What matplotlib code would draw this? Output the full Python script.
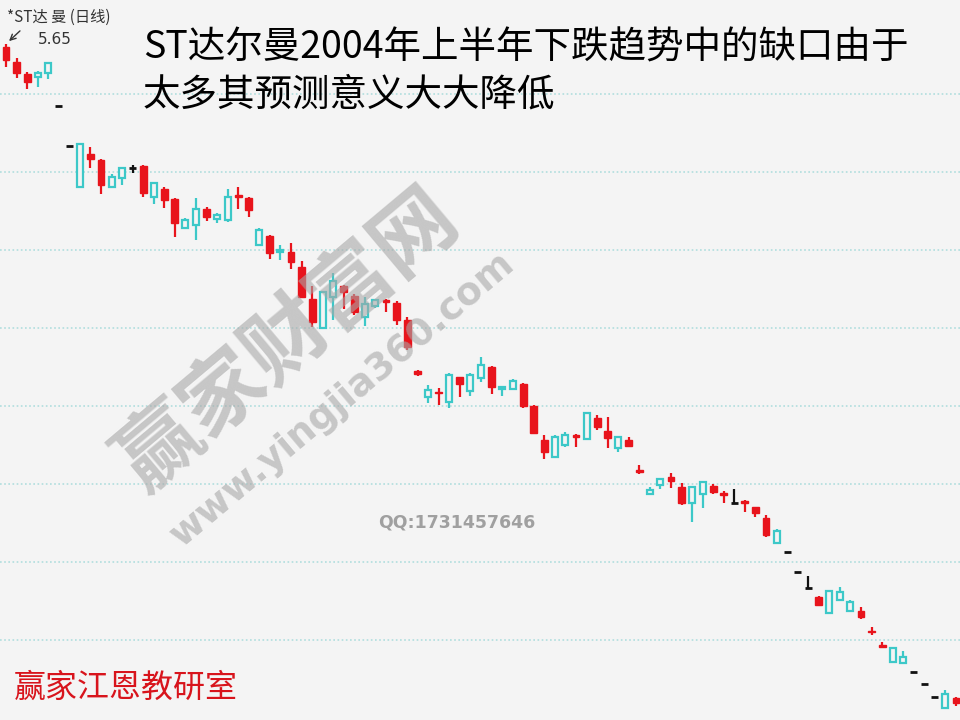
import matplotlib
matplotlib.use("Agg")
import matplotlib.pyplot as plt
import numpy as np

plt.rcParams['font.family'] = ['Noto Sans CJK SC', 'DejaVu Sans']

# ---- data (daily OHLC) ----
opens = [5.570, 5.505, 5.460, 5.505, 5.555, 5.340, 5.140, 5.150, 5.075, 4.945,
         4.985, 5.030, 5.030, 4.905, 4.955, 4.870, 4.755, 4.770, 4.825, 4.785,
         4.795, 4.885, 4.885, 4.820, 4.720, 4.605, 4.620, 4.560, 4.385, 4.260,
         4.410, 4.465, 4.410, 4.310, 4.350, 4.370, 4.360, 4.270, 4.135, 4.000,
         3.920, 3.905, 3.995, 3.950, 3.995, 4.045, 3.935, 3.935, 3.965, 3.840,
         3.705, 3.610, 3.685, 3.695, 3.685, 3.805, 3.735, 3.680, 3.685, 3.640,
         3.510, 3.420, 3.475, 3.465, 3.355, 3.435, 3.460, 3.410, 3.395, 3.355,
         3.355, 3.305, 3.195, 3.215, 3.110, 3.010, 2.930, 2.845, 2.915, 2.910,
         2.860, 2.785, 2.710, 2.635, 2.630, 2.585, 2.510, 2.450, 2.385, 2.400,
         2.355]
closes = [5.635, 5.560, 5.500, 5.485, 5.505, 5.340, 5.140, 4.935, 5.100, 5.070,
          4.935, 4.980, 5.030, 5.040, 4.885, 4.925, 4.875, 4.730, 4.745, 4.825,
          4.775, 4.770, 4.895, 4.880, 4.645, 4.690, 4.610, 4.610, 4.535, 4.375,
          4.230, 4.385, 4.440, 4.390, 4.285, 4.340, 4.370, 4.355, 4.270, 4.015,
          3.885, 3.910, 3.860, 3.985, 3.915, 3.980, 4.035, 3.925, 3.925, 3.950,
          3.840, 3.670, 3.585, 3.645, 3.695, 3.675, 3.780, 3.715, 3.630, 3.670,
          3.520, 3.400, 3.445, 3.485, 3.435, 3.355, 3.400, 3.440, 3.405, 3.355,
          3.365, 3.335, 3.280, 3.155, 3.110, 3.010, 2.930, 2.885, 2.805, 2.870,
          2.815, 2.815, 2.715, 2.645, 2.560, 2.555, 2.510, 2.450, 2.385, 2.330,
          2.380]
highs = [5.650, 5.580, 5.510, 5.515, 5.560, 5.340, 5.140, 5.150, 5.135, 5.075,
         5.000, 5.035, 5.045, 5.045, 4.955, 4.935, 4.880, 4.780, 4.880, 4.835,
         4.805, 4.925, 4.935, 4.885, 4.730, 4.695, 4.645, 4.655, 4.565, 4.440,
         4.415, 4.505, 4.445, 4.400, 4.385, 4.375, 4.375, 4.365, 4.285, 4.020,
         3.945, 3.930, 4.005, 3.985, 4.005, 4.085, 4.040, 3.940, 3.975, 3.955,
         3.845, 3.695, 3.695, 3.710, 3.700, 3.805, 3.795, 3.785, 3.690, 3.685,
         3.545, 3.435, 3.480, 3.505, 3.455, 3.435, 3.460, 3.450, 3.415, 3.425,
         3.370, 3.335, 3.295, 3.225, 3.110, 3.010, 2.990, 2.890, 2.915, 2.935,
         2.870, 2.835, 2.735, 2.660, 2.630, 2.615, 2.510, 2.450, 2.385, 2.420,
         2.385]
lows = [5.535, 5.480, 5.425, 5.435, 5.475, 5.340, 5.140, 4.935, 5.030, 4.900,
        4.930, 4.945, 5.005, 4.885, 4.850, 4.830, 4.685, 4.725, 4.670, 4.765,
        4.755, 4.760, 4.825, 4.785, 4.640, 4.575, 4.570, 4.525, 4.380, 4.235,
        4.225, 4.270, 4.325, 4.295, 4.240, 4.330, 4.310, 4.245, 4.120, 3.990,
        3.855, 3.845, 3.830, 3.885, 3.890, 3.960, 3.900, 3.890, 3.920, 3.830,
        3.700, 3.575, 3.580, 3.635, 3.635, 3.670, 3.720, 3.630, 3.610, 3.635,
        3.500, 3.400, 3.425, 3.430, 3.345, 3.260, 3.330, 3.400, 3.355, 3.355,
        3.310, 3.285, 3.185, 3.155, 3.110, 3.010, 2.930, 2.840, 2.805, 2.870,
        2.815, 2.775, 2.695, 2.630, 2.560, 2.555, 2.510, 2.450, 2.385, 2.330,
        2.340]
grid_levels = [5.40, 5.01, 4.62, 4.23, 3.84, 3.45, 3.06, 2.67]
peak_label = "5.65"

title_lines = ["ST达尔曼2004年上半年下跌趋势中的缺口由于", "太多其预测意义大大降低"]
stock_label = "*ST达 曼 (日线)"
watermark_cn = "赢家财富网"
watermark_url = "www.yingjia360.com"
qq_text = "QQ:1731457646"
studio_text = "赢家江恩教研室"

# ---- styles ----
BG = "#f4f4f4"
RED = "#e8141c"
CYAN = "#3cc8c8"
BLACK = "#111111"

W, H = 960, 720
fig = plt.figure(figsize=(W / 100, H / 100), dpi=100, facecolor=BG)
ax = fig.add_axes([0, 0, 1, 1])
ax.set_facecolor(BG)
ax.axis("off")

n = len(opens)
x = np.arange(n)
ax.set_xlim(-0.568, n - 1 + 0.38)
ax.set_ylim(2.27, 5.87)

def px(xp, yp):
    return xp / W, 1 - yp / H

# gridlines
for g in grid_levels:
    ax.axhline(g, color="#b0dede", lw=1.2, ls=(0, (1, 1.5)), zorder=1)

# watermark
fig.text(*px(288, 342), watermark_cn, fontsize=60, fontweight="bold", color="#a8a8a8",
         alpha=0.6, rotation=40, ha="center", va="center", zorder=2)
fig.text(*px(343, 400), watermark_url, fontsize=27, fontweight="bold", color="#a8a8a8",
         alpha=0.6, rotation=40, ha="center", va="center", zorder=2,
         family=["DejaVu Sans"])

bw = 0.66
for i in range(n):
    o, c, hi, lo = opens[i], closes[i], highs[i], lows[i]
    if c > o:
        col = RED
    elif c < o:
        col = CYAN
    else:
        col = BLACK
    top, bot = max(o, c), min(o, c)
    if hi > top:
        ax.vlines(i, top, hi, color=col, lw=1.6, zorder=3)
    if lo < bot:
        ax.vlines(i, lo, bot, color=col, lw=1.6, zorder=3)
    if col == RED:
        ax.bar(i, top - bot, bottom=bot, width=bw, color=RED, edgecolor=RED, lw=1.0, zorder=4)
    elif col == CYAN:
        ax.bar(i, top - bot, bottom=bot, width=bw - 0.1, color=BG, edgecolor=CYAN, lw=1.6, zorder=4)
    else:
        ax.hlines(o, i - bw / 2, i + bw / 2, color=BLACK, lw=2.0, zorder=4)

# texts
fig.text(*px(7, 17), stock_label, fontsize=11, color="#333333", ha="left", va="center")
fig.text(*px(38, 40), peak_label, fontsize=11, color="#333333", ha="left", va="center",
         family=["DejaVu Sans"])
ax.annotate("", xy=px(7, 43), xycoords="figure fraction", xytext=px(22, 29),
            textcoords="figure fraction",
            arrowprops=dict(arrowstyle="->", color="#333333", lw=1.0))

fig.text(*px(143, 48), title_lines[0], fontsize=27, color="black", ha="left", va="center")
fig.text(*px(143, 95), title_lines[1], fontsize=27, color="black", ha="left", va="center")

fig.text(*px(378, 523), qq_text, fontsize=12.5, fontweight="bold", color="#a0a0a0",
         ha="left", va="center", family=["DejaVu Sans"])
fig.text(*px(14, 688), studio_text, fontsize=23, color="#d8141c", ha="left", va="center")

fig.savefig("out.png", dpi=100, facecolor=BG)
